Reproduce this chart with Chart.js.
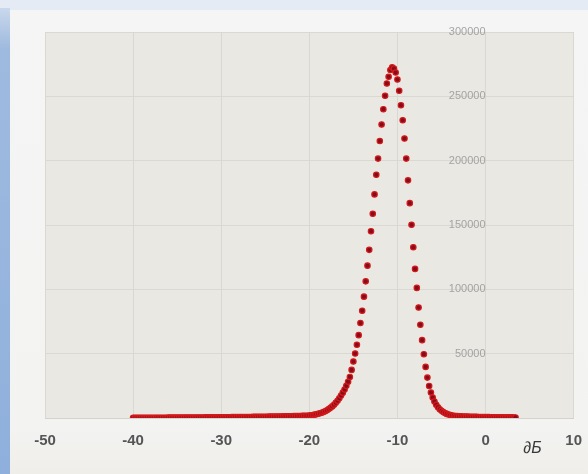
<!DOCTYPE html>
<html>
<head>
<meta charset="utf-8">
<script src="https://cdn.jsdelivr.net/npm/chart.js@4.4.1/dist/chart.umd.min.js"></script>
<style>
  html, body { margin: 0; padding: 0; }
  body { width: 588px; height: 474px; position: relative; overflow: hidden; background: #e4ebf4; }
  .strip { position: absolute; left: 0; top: 8px; width: 10px; bottom: 0; background: linear-gradient(180deg, #c9d8ec 0, #9fbadf 40px, #8fb0dc 100%); }
  .panel { position: absolute; left: 10px; top: 10px; right: 0; bottom: 0; background: linear-gradient(180deg, #f5f5f5 0, #f3f3f2 90%, #efeee9 100%); }
  #wrap { position: absolute; left: 0; top: 0; width: 588px; height: 474px; }
</style>
</head>
<body>
<div class="strip"></div>
<div class="panel"></div>
<div id="wrap"><canvas id="chart" width="588" height="474"></canvas></div>
<script>
// level in dB (x) and count (y)
const levels = [
  -40, -39.8, -39.6, -39.4, -39.2, -39, -38.8, -38.6, -38.4, -38.2,
  -38, -37.8, -37.6, -37.4, -37.2, -37, -36.8, -36.6, -36.4, -36.2,
  -36, -35.8, -35.6, -35.4, -35.2, -35, -34.8, -34.6, -34.4, -34.2,
  -34, -33.8, -33.6, -33.4, -33.2, -33, -32.8, -32.6, -32.4, -32.2,
  -32, -31.8, -31.6, -31.4, -31.2, -31, -30.8, -30.6, -30.4, -30.2,
  -30, -29.8, -29.6, -29.4, -29.2, -29, -28.8, -28.6, -28.4, -28.2,
  -28, -27.8, -27.6, -27.4, -27.2, -27, -26.8, -26.6, -26.4, -26.2,
  -26, -25.8, -25.6, -25.4, -25.2, -25, -24.8, -24.6, -24.4, -24.2,
  -24, -23.8, -23.6, -23.4, -23.2, -23, -22.8, -22.6, -22.4, -22.2,
  -22, -21.8, -21.6, -21.4, -21.2, -21, -20.8, -20.6, -20.4, -20.2,
  -20, -19.8, -19.6, -19.4, -19.2, -19, -18.8, -18.6, -18.4, -18.2,
  -18, -17.8, -17.6, -17.4, -17.2, -17, -16.8, -16.6, -16.4, -16.2,
  -16, -15.8, -15.6, -15.4, -15.2, -15, -14.8, -14.6, -14.4, -14.2,
  -14, -13.8, -13.6, -13.4, -13.2, -13, -12.8, -12.6, -12.4, -12.2,
  -12, -11.8, -11.6, -11.4, -11.2, -11, -10.8, -10.6, -10.4, -10.2,
  -10, -9.8, -9.6, -9.4, -9.2, -9, -8.8, -8.6, -8.4, -8.2,
  -8, -7.8, -7.6, -7.4, -7.2, -7, -6.8, -6.6, -6.4, -6.2,
  -6, -5.8, -5.6, -5.4, -5.2, -5, -4.8, -4.6, -4.4, -4.2,
  -4, -3.8, -3.6, -3.4, -3.2, -3, -2.8, -2.6, -2.4, -2.2,
  -2, -1.8, -1.6, -1.4, -1.2, -1, -0.8, -0.6, -0.4, -0.2,
  0, 0.2, 0.4, 0.6, 0.8, 1, 1.2, 1.4, 1.6, 1.8,
  2, 2.2, 2.4, 2.6, 2.8, 3, 3.2, 3.4,
];

const counts = [
  150, 150, 160, 160, 170, 170, 180, 180, 190, 190,
  200, 200, 210, 210, 220, 230, 230, 240, 250, 250,
  260, 270, 270, 280, 290, 300, 300, 310, 320, 330,
  340, 350, 360, 370, 380, 390, 400, 410, 420, 430,
  440, 450, 460, 470, 490, 500, 510, 520, 540, 550,
  560, 580, 590, 600, 620, 630, 650, 660, 680, 690,
  710, 730, 740, 760, 780, 800, 810, 830, 850, 870,
  890, 910, 930, 950, 970, 990, 1010, 1040, 1060, 1080,
  1100, 1130, 1150, 1180, 1200, 1230, 1260, 1290, 1320, 1350,
  1380, 1420, 1460, 1500, 1540, 1580, 1630, 1680, 1740, 1800,
  2000, 2150, 2350, 2600, 2900, 3250, 3650, 4100, 4650, 5300,
  6050, 6900, 7900, 9000, 10300, 11800, 13400, 15300, 17400, 19700,
  22200, 25000, 28200, 31900, 37400, 43900, 50100, 56900, 64400, 73800,
  83400, 94300, 106200, 118400, 130700, 145200, 158700, 173800, 189000, 201600,
  215300, 228100, 240000, 250400, 260000, 265200, 270500, 272500, 271500, 268500,
  263100, 254300, 243100, 231400, 217200, 201600, 184700, 167000, 150200, 132700,
  115900, 101100, 85900, 72500, 60500, 49600, 39700, 31400, 24900, 19800,
  15900, 12800, 10300, 8400, 6800, 5600, 4600, 3800, 3200, 2700,
  2300, 2000, 1800, 1600, 1450, 1350, 1250, 1200, 1150, 1100,
  1050, 1000, 960, 920, 880, 850, 820, 790, 760, 730,
  700, 680, 660, 640, 620, 600, 580, 560, 540, 520,
  500, 490, 480, 470, 460, 450, 440, 430,
];

const xMin = -50, xMax = 10, xStep = 10;
const yMin = 0, yMax = 300000, yStep = 50000;
const unitLabel = "∂Б";

const points = levels.map((x, i) => ({ x: x, y: counts[i] }));

const plotBg = {
  id: "plotBg",
  beforeDraw(chart) {
    const a = chart.chartArea;
    const ctx = chart.ctx;
    ctx.save();
    ctx.fillStyle = "#e9e8e2";
    ctx.fillRect(a.left, a.top, a.right - a.left, a.bottom - a.top);
    ctx.restore();
  },
  afterDraw(chart) {
    const a = chart.chartArea;
    const ctx = chart.ctx;
    ctx.save();
    ctx.font = "italic 16px 'Liberation Sans', Arial, sans-serif";
    ctx.fillStyle = "#3a3a3a";
    ctx.textAlign = "right";
    ctx.textBaseline = "middle";
    ctx.fillText(unitLabel, a.right - 32, a.bottom + 31);
    ctx.restore();
  },
};

new Chart(document.getElementById("chart"), {
  type: "scatter",
  data: {
    datasets: [{
      data: points,
      pointRadius: 2.7,
      pointHoverRadius: 2.7,
      pointBackgroundColor: "#860c1c",
      pointBorderColor: "#d41a1a",
      pointBorderWidth: 1.2,
    }],
  },
  options: {
    responsive: false,
    animation: false,
    events: [],
    layout: { padding: { left: 45, right: 9, top: 32, bottom: 18 } },
    plugins: { legend: { display: false }, tooltip: { enabled: false } },
    scales: {
      x: {
        type: "linear",
        min: xMin,
        max: xMax,
        ticks: {
          stepSize: xStep,
          color: "#555",
          padding: 6,
          font: { family: "'Liberation Sans', Arial, sans-serif", size: 15, weight: "bold" },
        },
        grid: { color: "#d9d8d2", tickColor: "rgba(0,0,0,0)", tickLength: 8 },
        border: { color: "#d3d2cc" },
      },
      y: {
        type: "linear",
        position: { x: 0 },
        min: yMin,
        max: yMax,
        ticks: {
          stepSize: yStep,
          color: "#a3a3a3",
          padding: 3,
          font: { family: "'Liberation Sans', Arial, sans-serif", size: 11 },
          callback: (v) => (v === 0 ? "" : String(v)),
        },
        grid: { color: "#d9d8d2", tickColor: "rgba(0,0,0,0)", tickLength: 8 },
        border: { display: false },
      },
    },
  },
  plugins: [plotBg],
});
</script>
</body>
</html>
